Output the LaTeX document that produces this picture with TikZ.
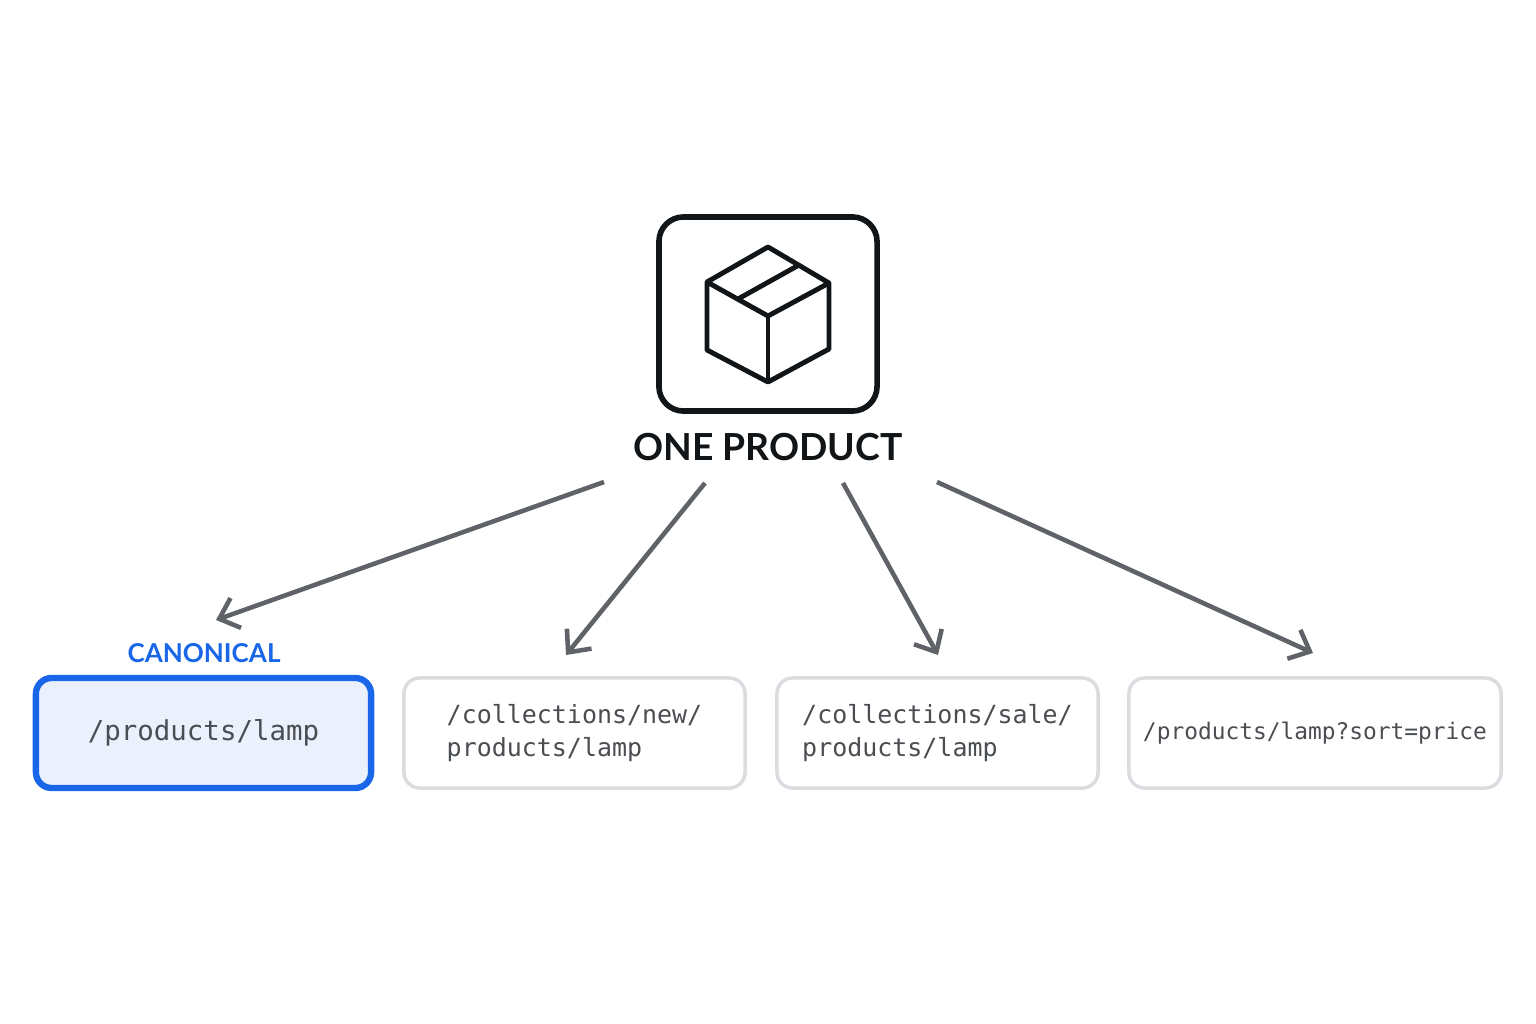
\documentclass[tikz,border=0pt]{standalone}
\usepackage{fontspec}
\setmainfont{Lato}
\setmonofont{DejaVu Sans Mono}
\usetikzlibrary{positioning,arrows.meta}
\definecolor{arrowgray}{HTML}{5F6368}
\definecolor{boxgray}{HTML}{DADCE0}
\definecolor{canonblue}{HTML}{1A66E8}
\definecolor{canonfill}{HTML}{EAF1FD}
\definecolor{ink}{HTML}{111517}
\definecolor{urltext}{HTML}{4A4D52}
\tikzset{
  url/.style={draw=boxgray, line width=1pt, rounded corners=4.5pt, fill=white,
    minimum height=1.1cm, text=urltext, font=\ttfamily\fontsize{7.1}{9.5}\selectfont, align=left},
  link/.style={draw=arrowgray, line width=1.3pt, -{Straight Barb[length=5pt,width=9pt]}},
}
\begin{document}
\begin{tikzpicture}[x=0.01cm, y=-0.01cm]
    \useasboundingbox (0,0) rectangle (1536,1024);

    % product icon
    \node [draw=ink, line width=1.6pt, rounded corners=7pt, minimum width=2.18cm, minimum height=1.94cm] (icon) at (768,314) {};
    \begin{scope}[draw=ink, line width=1.4pt, line join=round]
        \draw (768,247) -- (707,282) -- (707,350) -- (768,382) -- (829,349) -- (829,283) -- cycle;
        \draw (707,282) -- (768,316) -- (829,283);
        \draw (768,316) -- (768,382);
        \draw (738,299) -- (799,265);
    \end{scope}
    \node [font=\bfseries\fontsize{10.6}{13}\selectfont, text=ink] (title) at (768,447) {ONE PRODUCT};

    % url variants
    \node [url, draw=canonblue, line width=1.8pt, fill=canonfill, minimum width=3.35cm, font=\ttfamily\fontsize{7.8}{9}\selectfont] (canon) at (203.5,733) {/products/lamp};
    \node [font=\bfseries\fontsize{7.4}{9}\selectfont, text=canonblue] (tag) at (204,653) {CANONICAL};
    \node [url, minimum width=3.41cm] (newurl) at (574.5,733) {/collections/new/\\products/lamp};
    \node [url, minimum width=3.21cm] (saleurl) at (937.5,733) {/collections/sale/\\products/lamp};
    \node [url, minimum width=3.72cm, font=\ttfamily\fontsize{6.5}{9}\selectfont] (sorturl) at (1315,733) {/products/lamp?sort=price};

    % arrows
    \coordinate (s1) at (604,482); \coordinate (e1) at (216,620);
    \coordinate (s2) at (705,483); \coordinate (e2) at (566,655);
    \coordinate (s3) at (843,483); \coordinate (e3) at (938,655);
    \coordinate (s4) at (937,482); \coordinate (e4) at (1313,653);
    \foreach \i in {1,...,4} \draw [link] (s\i) -- (e\i);
\end{tikzpicture}
\end{document}
